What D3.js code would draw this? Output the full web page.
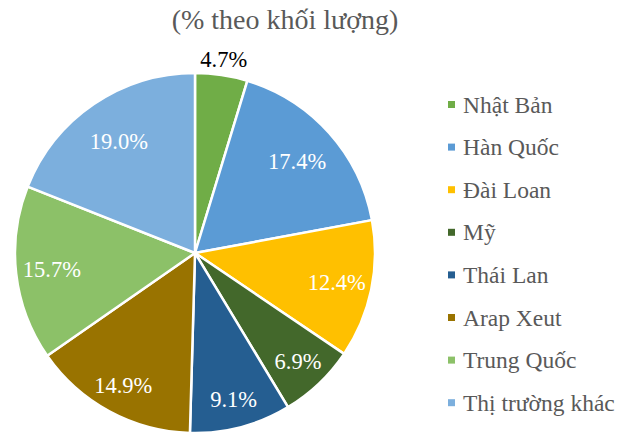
<!DOCTYPE html>
<html><head><meta charset="utf-8">
<script src="https://cdn.jsdelivr.net/npm/d3@7"></script>
<style>
html,body{margin:0;padding:0;background:#fff;overflow:hidden}
svg{display:block}
</style></head>
<body><svg id="c" width="622" height="432"></svg>
<script>
const categories = ["Nhật Bản","Hàn Quốc","Đài Loan","Mỹ","Thái Lan","Arap Xeut","Trung Quốc","Thị trường khác"];
const values = [4.7,17.4,12.4,6.9,9.1,14.9,15.7,19.0];
const colors = ["#70AD47","#5B9BD5","#FFC000","#43682B","#255E91","#997300","#8CC168","#7CAFDD"];
const title = "(% theo khối lượng)";
const FONT = "Liberation Serif";

const svg = d3.select("#c");
const cx = 195, cy = 253, R = 180;

svg.append("text").attr("x", 285).attr("y", 29).attr("text-anchor","middle")
  .attr("font-family",FONT)
  .attr("font-size", 28).attr("fill","#595959").text(title);

const pie = d3.pie().sort(null).value(d => d)(values);
const arc = d3.arc().innerRadius(0).outerRadius(R);
const g = svg.append("g").attr("transform", `translate(${cx},${cy})`);
g.selectAll("path").data(pie).join("path")
  .attr("d", arc).attr("fill", (d,i) => colors[i])
  .attr("stroke","#fff").attr("stroke-width",2.5).attr("stroke-linejoin","round");

const fmt = v => v.toFixed(1) + "%";
g.selectAll("text.lbl").data(pie).join("text").attr("class","lbl")
  .each(function(d,i){
    const a = (d.startAngle + d.endAngle)/2;
    const outside = d.data < 5;
    const r = outside ? 196 : 143 - 9*Math.cos(a);
    d3.select(this).attr("x", Math.sin(a)*r).attr("y", -Math.cos(a)*r)
      .attr("dy","0.34em").attr("text-anchor","middle")
      .attr("font-family",FONT)
      .attr("font-size", 22.5)
      .attr("fill", outside ? "#000" : "#fff")
      .text(fmt(d.data));
  });

const lg = svg.append("g").attr("transform","translate(448,104.5)");
const rows = lg.selectAll("g").data(categories).join("g")
  .attr("transform",(d,i)=>`translate(0,${i*42.6})`);
rows.append("rect").attr("x",0).attr("y",-3.5).attr("width",7).attr("height",7)
  .attr("fill",(d,i)=>colors[i]);
rows.append("text").attr("x",15).attr("y",0).attr("dy","0.34em")
  .attr("font-family",FONT)
  .attr("font-size",23.5).attr("fill","#595959").text(d=>d);
</script></body></html>
